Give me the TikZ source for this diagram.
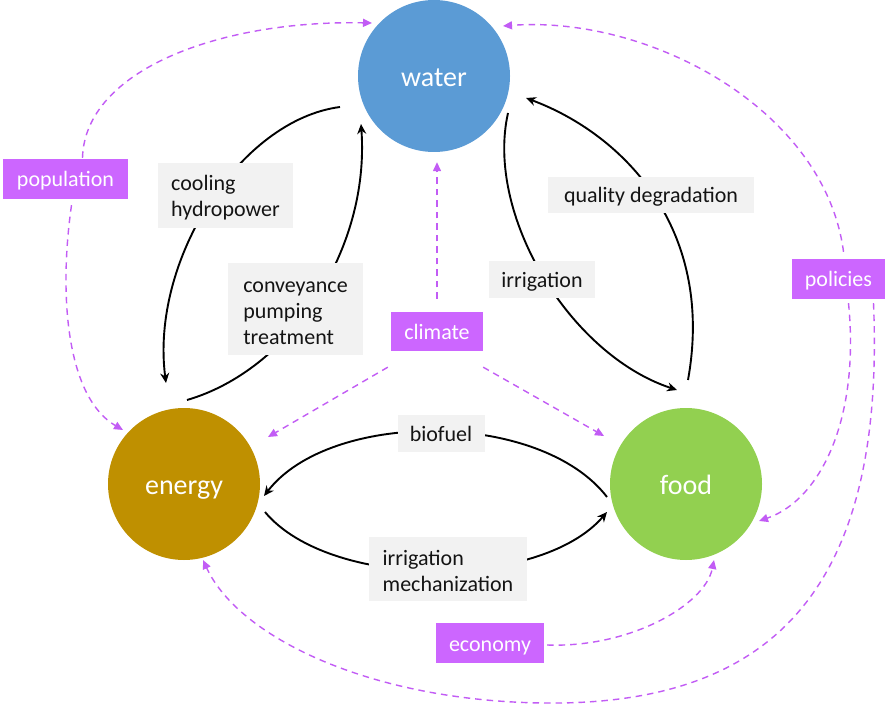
\documentclass[tikz,border=0pt]{standalone}
\usepackage{fontspec}
\setmainfont{Carlito}
\usetikzlibrary{arrows.meta,calc,backgrounds}
\definecolor{wblue}{HTML}{5B9BD5}
\definecolor{egold}{HTML}{BF9000}
\definecolor{fgreen}{HTML}{92D050}
\definecolor{purp}{HTML}{CC66FF}
\definecolor{purl}{HTML}{C25CF5}
\definecolor{lgray}{HTML}{F2F2F2}
\definecolor{ink}{HTML}{141414}
\begin{document}
\begin{tikzpicture}[x=1pt,y=-1pt,
  hub/.style={circle,minimum size=152pt,inner sep=0pt,text=white,text height=23pt,text depth=2pt,font=\fontsize{28}{30}\selectfont},
  lab/.style={fill=lgray,align=left,text=ink,inner sep=0pt,font=\fontsize{22}{26}\selectfont},
  one/.style={text height=17pt,text depth=1pt},
  drv/.style={fill=purp,text=white,inner sep=0pt,text height=17pt,text depth=1pt,font=\fontsize{22}{26}\selectfont},
  blk/.style={line width=1.9pt,-{Stealth[length=10pt,width=9pt]}},
  dsh/.style={purl,line width=1.4pt,dash pattern=on 6.5pt off 5pt,-{Triangle[length=9pt,width=8pt]}}]
\useasboundingbox (0,0) rectangle (888,708);

% hubs
\node[hub,fill=wblue]  (water)  at (434,76)  {water};
\node[hub,fill=egold]  (energy) at (184,484) {energy};
\node[hub,fill=fgreen] (food)   at (686,484) {food};

% link labels
\node[lab,minimum width=135pt,minimum height=65pt] (cool) at (225.5,195.5) {\rule{0pt}{20pt}cooling\\hydropower};
\node[lab,minimum width=135pt,minimum height=92pt] (conv) at (295.5,309) {\rule{0pt}{20pt}conveyance\\pumping\\treatment};
\node[lab,one,minimum width=206pt,minimum height=36pt] (qual) at (651,195) {quality degradation};
\node[lab,one,minimum width=106pt,minimum height=37pt] (irr)  at (542,279.5) {irrigation};
\node[lab,one,minimum width=87pt,minimum height=37pt]  (bio)  at (441,433.5) {biofuel};
\node[lab,minimum width=158pt,minimum height=64pt] (mech) at (448,569) {\rule{0pt}{20pt}irrigation\\mechanization};

% drivers
\node[drv,minimum width=125pt,minimum height=40pt] (population) at (65.5,179) {population};
\node[drv,minimum width=92pt,minimum height=39pt]  (climate)    at (437,331.5) {climate};
\node[drv,minimum width=93pt,minimum height=40pt]  (policies)   at (838.5,279) {policies};
\node[drv,minimum width=108pt,minimum height=40pt] (economy)    at (490,643) {economy};

\begin{pgfonlayer}{background}
\fill[white] (0,0) rectangle (888,708);
% black links
\draw[blk] ($(water)+(-94,31)$) .. controls (240,120) and (150,260) .. ($(energy)+(-18,-101)$);
\draw[blk] ($(energy)+(3,-84)$) .. controls (290,370) and (370,250) .. ($(water)+(-73,48)$);
\draw[blk] ($(water)+(74,37)$) .. controls (485,215) and (570,355) .. ($(food)+(-9,-94)$);
\draw[blk] ($(food)+(2,-104)$) .. controls (715,230) and (625,135) .. ($(water)+(92,22)$);
\draw[blk] ($(food)+(-79,13)$) .. controls (540,410) and (330,410) .. ($(energy)+(80,12)$);
\draw[blk] ($(energy)+(81,28)$) .. controls (330,590) and (540,590) .. ($(food)+(-79,28)$);
% dashed drivers
\draw[dsh] ($(population.north)+(17,-1)$) .. controls (85,70) and (220,20) .. ($(water)+(-62,-53)$);
\draw[dsh] ($(population.south)+(6,6)$) .. controls (58,300) and (68,398) .. ($(energy)+(-61,-54)$);
\draw[dsh] ($(climate.north)+(0,-13)$) -- ($(climate.north |- water.south)+(0,10)$);
\draw[dsh] ($(climate.south west)+(-3,16)$) -- ($(energy)+(84,-47)$);
\draw[dsh] ($(climate.south east)+(0,16)$) -- ($(food)+(-82,-48)$);
\draw[dsh] ($(policies.north)+(5,-7)$) .. controls (825,110) and (650,15) .. ($(water)+(69,-50)$);
\draw[dsh] ($(policies.south)+(10,4)$) .. controls (860,420) and (820,500) .. ($(food)+(73,37)$);
\draw[dsh] ($(policies.south)+(35,4)$) .. controls (885,580) and (780,700) .. (560,703)
           .. controls (380,705) and (240,640) .. ($(energy)+(19,76)$);
\draw[dsh] ($(economy.east)+(3,2)$) .. controls (630,648) and (705,605) .. ($(food)+(28,76)$);
\end{pgfonlayer}
\end{tikzpicture}
\end{document}
